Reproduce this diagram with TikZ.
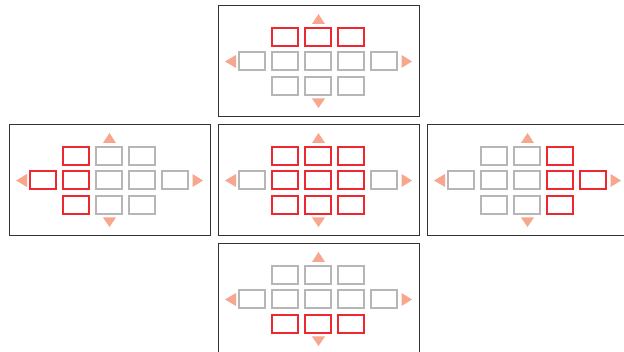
\documentclass[tikz,border=0pt]{standalone}
\definecolor{redb}{RGB}{236,40,48}
\definecolor{grayb}{RGB}{182,182,182}
\definecolor{tri}{RGB}{246,167,141}
\definecolor{framec}{RGB}{50,50,50}
\tikzset{
  panelframe/.style={draw=framec,line width=1pt},
  cellbox/.style={line width=1.15pt,minimum width=26pt,minimum height=18pt,inner sep=0pt,fill=white},
  offbox/.style={cellbox,draw=grayb},
  onbox/.style={cellbox,draw=redb},
  arrowtri/.style={fill=tri,draw=none}
}
\newcommand{\panelgrid}[4]{%
  \draw[panelframe] (#2-100.5,#3-55.5) rectangle (#2+100.5,#3+55.5);
  \foreach \c/\r/\s [count=\i] in {#4}{%
    \node[\s] (#1c\i) at (#2-0.5+\c*33,#3-0.5+\r*24.5+0.5*\r*\r) {};
  }
  \fill[arrowtri] (#2,#3-47.5) -- (#2+6.5,#3-37.5) -- (#2-6.5,#3-37.5) -- cycle;
  \fill[arrowtri] (#2,#3+46.5) -- (#2+6.5,#3+37) -- (#2-6.5,#3+37) -- cycle;
  \fill[arrowtri] (#2-93.5,#3) -- (#2-82.5,#3-6.5) -- (#2-82.5,#3+6.5) -- cycle;
  \fill[arrowtri] (#2+93.5,#3) -- (#2+83,#3-6.5) -- (#2+83,#3+6.5) -- cycle;
}
\begin{document}
\begin{tikzpicture}[x=1pt,y=-1pt]
\useasboundingbox (0,0) rectangle (624,352);
\fill[white] (0,0) rectangle (624,352);
\panelgrid{top}{318.5}{61.5}{-1/-1/onbox,0/-1/onbox,1/-1/onbox,-2/0/offbox,-1/0/offbox,0/0/offbox,1/0/offbox,2/0/offbox,-1/1/offbox,0/1/offbox,1/1/offbox}
\panelgrid{left}{109.5}{180.5}{-1/-1/onbox,0/-1/offbox,1/-1/offbox,-2/0/onbox,-1/0/onbox,0/0/offbox,1/0/offbox,2/0/offbox,-1/1/onbox,0/1/offbox,1/1/offbox}
\panelgrid{mid}{318.5}{180.5}{-1/-1/onbox,0/-1/onbox,1/-1/onbox,-2/0/offbox,-1/0/onbox,0/0/onbox,1/0/onbox,2/0/offbox,-1/1/onbox,0/1/onbox,1/1/onbox}
\panelgrid{right}{527.5}{180.5}{-1/-1/offbox,0/-1/offbox,1/-1/onbox,-2/0/offbox,-1/0/offbox,0/0/offbox,1/0/onbox,2/0/onbox,-1/1/offbox,0/1/offbox,1/1/onbox}
\panelgrid{bot}{318.5}{299.5}{-1/-1/offbox,0/-1/offbox,1/-1/offbox,-2/0/offbox,-1/0/offbox,0/0/offbox,1/0/offbox,2/0/offbox,-1/1/onbox,0/1/onbox,1/1/onbox}
\end{tikzpicture}
\end{document}
